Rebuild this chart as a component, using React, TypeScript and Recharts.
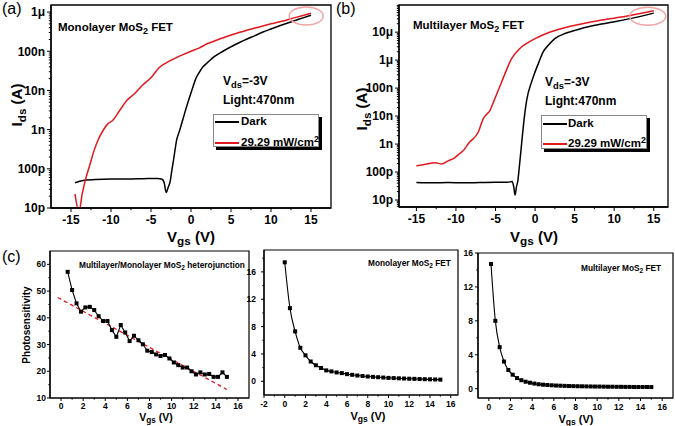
import React from 'react';
import { LineChart, Line, XAxis, YAxis, ReferenceArea, ReferenceDot } from 'recharts';

const FONT = '"Liberation Sans", Arial, Helvetica, sans-serif';
const RED = '#e0191f';

// (a) Monolayer MoS2 FET, Ids (A) vs Vgs (V)
const monoDarkVgs = [-14.5, -13.5, -12, -10, -8, -6, -4.2, -3.6, -3.35, -3.1, -2.85, -2.6, -2.4, -2.2, -2.0, -1.8, -1.5, -1.2, -0.8, -0.3, 0.2, 0.6, 1.0, 1.5, 2.0, 3, 4, 5, 6, 7, 8, 9, 10, 11, 12, 13, 14, 15];
const monoDarkIds = [4.4e-11, 5.0e-11, 5.3e-11, 5.5e-11, 5.5e-11, 5.6e-11, 5.7e-11, 5.4e-11, 4.4e-11, 2.5e-11, 3.4e-11, 4.8e-11, 9e-11, 1.6e-10, 3.0e-10, 5.4e-10, 8.5e-10, 1.35e-9, 2.6e-9, 5.6e-9, 1.15e-8, 2.0e-8, 2.8e-8, 4.0e-8, 5.0e-8, 7.5e-8, 1.0e-7, 1.3e-7, 1.65e-7, 2.05e-7, 2.5e-7, 3.1e-7, 3.7e-7, 4.4e-7, 5.2e-7, 6.1e-7, 7.1e-7, 8.3e-7];
const monoLightVgs = [-14.5, -14.0, -13.6, -13.2, -12.6, -12.1, -11.6, -11.0, -10.4, -9.8, -9.0, -8.0, -7.0, -6.0, -5.0, -4.0, -3.0, -2.0, -1.0, 0, 1, 2, 3, 4, 5, 6, 7, 8, 9, 10, 11, 12, 13, 14, 15];
const monoLightIds = [2.3e-11, 8e-12, 2.3e-11, 5.2e-11, 1.35e-10, 3.0e-10, 5.5e-10, 9.5e-10, 1.4e-9, 1.7e-9, 2.9e-9, 5.6e-9, 8.5e-9, 1.4e-8, 2.1e-8, 3.8e-8, 5.2e-8, 6.6e-8, 8.2e-8, 1.0e-7, 1.2e-7, 1.55e-7, 1.85e-7, 2.2e-7, 2.6e-7, 3.0e-7, 3.45e-7, 3.9e-7, 4.4e-7, 5.0e-7, 5.6e-7, 6.3e-7, 7.2e-7, 8.2e-7, 9.3e-7];

// (b) Multilayer MoS2 FET
const multiDarkVgs = [-15, -13, -11, -9, -7, -5, -3.5, -2.9, -2.7, -2.53, -2.35, -2.19, -1.99, -1.78, -1.49, -1.06, -0.43, 0, 0.5, 1.04, 1.67, 2.5, 3.77, 5, 6.3, 8.4, 10.5, 12.6, 15];
const multiDarkIds = [4.2e-11, 4.1e-11, 4.2e-11, 4.1e-11, 4.2e-11, 4.3e-11, 4.3e-11, 4.6e-11, 3.0e-11, 1.5e-11, 3.0e-11, 4.6e-11, 1.55e-10, 6.1e-10, 4.2e-9, 3.7e-8, 1.7e-7, 3.8e-7, 8.7e-7, 2.0e-6, 3.4e-6, 5.9e-6, 8.9e-6, 1.15e-5, 1.47e-5, 1.95e-5, 2.5e-5, 3.3e-5, 4.8e-5];
const multiLightVgs = [-15, -14, -12.6, -11.8, -11, -10.27, -9.47, -9.0, -8.42, -7.16, -6.53, -6.2, -5.69, -5.2, -4.64, -3.8, -2.95, -2.3, -1.69, -0.8, 0, 1.67, 4.19, 8.4, 11.5, 15];
const multiLightIds = [1.65e-10, 1.85e-10, 2.15e-10, 1.94e-10, 2.5e-10, 3.1e-10, 4.7e-10, 6.1e-10, 1.05e-9, 2.75e-9, 8.3e-9, 1.1e-8, 1.6e-8, 3.5e-8, 8.5e-8, 3.3e-7, 1.15e-6, 2.0e-6, 3.0e-6, 4.4e-6, 5.9e-6, 9.5e-6, 1.55e-5, 2.7e-5, 3.7e-5, 5.8e-5];

// (c) photosensitivity vs Vgs
const heteroVgs = [0.6, 1.0, 1.4, 1.8, 2.2, 2.6, 3.0, 3.4, 3.8, 4.2, 4.6, 5.0, 5.4, 5.8, 6.2, 6.6, 7.0, 7.4, 7.8, 8.2, 8.6, 9.0, 9.4, 9.8, 10.2, 10.6, 11.0, 11.4, 11.8, 12.2, 12.6, 13.0, 13.4, 13.8, 14.2, 14.6, 15.0];
const heteroPs = [57.2, 50.4, 45.4, 42.3, 43.9, 44.1, 42.9, 40.6, 38.8, 38.8, 35.4, 32.9, 37.3, 34.5, 31.3, 33.3, 31.6, 30.1, 27.7, 27.2, 26.3, 25.7, 26.1, 24.8, 23.3, 22.3, 21.4, 21.4, 20.0, 18.8, 19.6, 18.8, 19.0, 17.9, 17.9, 19.6, 17.9];
const heteroFitVgs = [-0.3, 15.0];
const heteroFitPs = [47.6, 13.2];
const monoPsVgs = [0, 0.5, 1, 1.5, 2, 2.5, 3, 3.5, 4, 4.5, 5, 5.5, 6, 6.5, 7, 7.5, 8, 8.5, 9, 9.5, 10, 10.5, 11, 11.5, 12, 12.5, 13, 13.5, 14, 14.5, 15];
const monoPs = [17.4, 10.7, 7.3, 4.9, 3.8, 2.9, 2.35, 1.95, 1.6, 1.45, 1.3, 1.2, 1.05, 0.95, 0.85, 0.78, 0.7, 0.65, 0.6, 0.55, 0.5, 0.47, 0.44, 0.41, 0.38, 0.36, 0.33, 0.31, 0.29, 0.27, 0.25];
const multiPsVgs = [0.2, 0.6, 1.0, 1.4, 1.8, 2.2, 2.6, 3.0, 3.4, 3.8, 4.2, 4.6, 5.0, 5.4, 5.8, 6.2, 6.6, 7.0, 7.4, 7.8, 8.2, 8.6, 9.0, 9.4, 9.8, 10.2, 10.6, 11.0, 11.4, 11.8, 12.2, 12.6, 13.0, 13.4, 13.8, 14.2, 14.6, 15.0];
const multiPs = [14.7, 8.0, 4.9, 3.2, 2.2, 1.65, 1.25, 1.0, 0.82, 0.7, 0.6, 0.52, 0.47, 0.43, 0.4, 0.37, 0.35, 0.33, 0.31, 0.3, 0.29, 0.28, 0.27, 0.26, 0.25, 0.25, 0.24, 0.23, 0.23, 0.22, 0.22, 0.21, 0.21, 0.2, 0.2, 0.2, 0.2, 0.19];

// tick labels
const ivExps = [-11, -10, -9, -8, -7, -6, -5];
const ivLabels = ['10p', '100p', '1n', '10n', '100n', '1μ', '10μ'];
const ivVgsMajor = [-15, -10, -5, 0, 5, 10, 15];
const ivVgsTicks = [-15, -12.5, -10, -7.5, -5, -2.5, 0, 2.5, 5, 7.5, 10, 12.5, 15];

// pink highlight ellipses (data coords)
const monoMark = { x: 14.4, y: -6.1 };
const multiMark = { x: 14.24, y: -4.43 };

const pts = (xs: number[], ys: number[], f: (v: number) => number = (v) => v) =>
  xs.map((x, i) => ({ x, y: f(ys[i]) }));

const isIn = (arr: number[], v: number) => arr.some((m) => Math.abs(m - v) < 1e-6);

const logMinor = (lo: number, hi: number) => {
  const t: number[] = [];
  for (let n = Math.floor(lo) - 1; n < hi; n++) {
    for (let k = 2; k <= 9; k++) {
      const v = n + Math.log10(k);
      if (v > lo && v < hi) t.push(v);
    }
  }
  return t;
};

const ivFmt = (v: number) => ivLabels[ivExps.indexOf(Math.round(v))] ?? '';

const makeXTick = (majors: number[], fs: number, len: number, off: number) => (t: any) => {
  const v = t.payload.value;
  const major = isIn(majors, v);
  return (
    <g>
      <line x1={t.x} x2={t.x} y1={t.y} y2={t.y + (major ? len : len * 0.55)} stroke="#000" strokeWidth={1} />
      {major && (
        <text x={t.x} y={t.y + off} textAnchor="middle" fontSize={fs} fontFamily={FONT} fontWeight="bold" fill="#000">
          {String(v)}
        </text>
      )}
    </g>
  );
};

const makeYTick = (majors: number[], fmt: (v: number) => string, fs: number, len: number, gap: number) => (t: any) => {
  const v = t.payload.value;
  const major = isIn(majors, v);
  return (
    <g>
      <line x1={t.x - (major ? len : len * 0.55)} x2={t.x} y1={t.y} y2={t.y} stroke="#000" strokeWidth={1} />
      {major && (
        <text x={t.x - gap} y={t.y} dy="0.36em" textAnchor="end" fontSize={fs} fontFamily={FONT} fontWeight="bold" fill="#000">
          {fmt(v)}
        </text>
      )}
    </g>
  );
};

const square = (p: any) => (
  <rect key={`sq-${p.index}`} x={p.cx - 2} y={p.cy - 2} width={4} height={4} fill="#000" />
);

const ellipse = (rx: number, ry: number) => (p: any) => (
  <ellipse cx={p.cx} cy={p.cy} rx={rx} ry={ry} fill="none" stroke="#f2a3a3" strokeWidth={1.4} />
);

type PanelProps = {
  box: [number, number, number, number];
  yw: number;
  xh: number;
  mt: number;
  mr: number;
  xDomain: [number, number];
  yDomain: [number, number];
  xTicks: number[];
  xMajors: number[];
  yTicks: number[];
  yMajors: number[];
  yFmt: (v: number) => string;
  fs: number;
  len: number;
  xOff: number;
  yGap: number;
  stroke: number;
  children: React.ReactNode;
};

function Panel(p: PanelProps) {
  const [x0, y0, x1, y1] = p.box;
  const left = x0 - p.yw;
  const top = y0 - p.mt;
  const width = x1 - left + p.mr;
  const height = y1 - top + p.xh;
  return (
    <div style={{ position: 'absolute', left, top }}>
      <LineChart width={width} height={height} margin={{ top: p.mt, right: p.mr, bottom: 0, left: 0 }}>
        <XAxis
          type="number"
          dataKey="x"
          domain={p.xDomain}
          allowDataOverflow
          ticks={p.xTicks}
          interval={0}
          tickSize={0}
          tickMargin={0}
          tickLine={false}
          height={p.xh}
          axisLine={{ stroke: '#000', strokeWidth: p.stroke }}
          tick={makeXTick(p.xMajors, p.fs, p.len, p.xOff)}
        />
        <YAxis
          type="number"
          domain={p.yDomain}
          allowDataOverflow
          ticks={p.yTicks}
          interval={0}
          tickSize={0}
          tickMargin={0}
          tickLine={false}
          width={p.yw}
          axisLine={{ stroke: '#000', strokeWidth: p.stroke }}
          tick={makeYTick(p.yMajors, p.yFmt, p.fs, p.len, p.yGap)}
        />
        <ReferenceArea
          x1={p.xDomain[0]}
          x2={p.xDomain[1]}
          y1={p.yDomain[0]}
          y2={p.yDomain[1]}
          fill="none"
          stroke="#000"
          strokeWidth={p.stroke}
          ifOverflow="visible"
        />
        {p.children}
      </LineChart>
    </div>
  );
}

const Sub = ({ c }: { c: string }) => (
  <span style={{ fontSize: '0.78em', position: 'relative', top: '0.32em' }}>{c}</span>
);
const Sup = ({ c }: { c: string }) => (
  <span style={{ fontSize: '0.78em', position: 'relative', top: '-0.45em' }}>{c}</span>
);

const Txt = ({ x, y, fs, bold = true, center = false, children }: any) => (
  <div
    style={{
      position: 'absolute',
      left: x,
      top: y - fs * 0.5,
      fontSize: fs,
      lineHeight: 1,
      fontFamily: FONT,
      fontWeight: bold ? 700 : 400,
      whiteSpace: 'nowrap',
      transform: center ? 'translateX(-50%)' : undefined,
    }}
  >
    {children}
  </div>
);

const RotTxt = ({ x, y, fs, children }: any) => (
  <div
    style={{
      position: 'absolute',
      left: x,
      top: y,
      fontSize: fs,
      lineHeight: 1,
      fontFamily: FONT,
      fontWeight: 700,
      whiteSpace: 'nowrap',
      transform: 'translate(-50%, -50%) rotate(-90deg)',
    }}
  >
    {children}
  </div>
);

const LegendBox = ({ x, y, w, h, r1, r2, lineW, textX, fs }: any) => (
  <div
    style={{
      position: 'absolute',
      left: x,
      top: y,
      width: w,
      height: h,
      boxSizing: 'border-box',
      border: '1px solid #888',
      boxShadow: '3px 3px 0 #000',
      background: '#fff',
      fontFamily: FONT,
      fontWeight: 700,
      fontSize: fs,
    }}
  >
    <div style={{ position: 'absolute', left: 1, top: r1 - 1, width: lineW, height: 1.6, background: '#000' }} />
    <div style={{ position: 'absolute', left: textX, top: r1 - fs * 0.5, lineHeight: 1, whiteSpace: 'nowrap' }}>Dark</div>
    <div style={{ position: 'absolute', left: 1, top: r2 - 1, width: lineW, height: 1.6, background: RED }} />
    <div style={{ position: 'absolute', left: textX, top: r2 - fs * 0.5, lineHeight: 1, whiteSpace: 'nowrap' }}>
      29.29 mW/cm<Sup c="2" />
    </div>
  </div>
);

const seriesLine = (data: any[], color: string, key: string, type: any = 'monotone') => (
  <Line
    key={key}
    data={data}
    dataKey="y"
    type={type}
    stroke={color}
    strokeWidth={1.5}
    dot={false}
    activeDot={false}
    isAnimationActive={false}
  />
);

export default function App() {
  const lg = (v: number) => Math.log10(v);
  const aTop = -5.82;
  const bDom: [number, number] = [-11.25, -4.03];
  const aYTicks = [...ivExps.filter((e) => e <= aTop), ...logMinor(-11, aTop)];
  const bYTicks = [...ivExps.filter((e) => e >= bDom[0] && e <= bDom[1]), ...logMinor(bDom[0], bDom[1])];

  const cX16 = [0, 1, 2, 3, 4, 5, 6, 7, 8, 9, 10, 11, 12, 13, 14, 15, 16];
  const cX16Major = [0, 2, 4, 6, 8, 10, 12, 14, 16];
  const cMidX = [-2, -1, ...cX16];
  const cMidXMajor = [-2, ...cX16Major];
  const cLeftY = [10, 15, 20, 25, 30, 35, 40, 45, 50, 55, 60];
  const cLeftYMajor = [10, 20, 30, 40, 50, 60];
  const cPsY = [0, 2, 4, 6, 8, 10, 12, 14, 16, 18];
  const cPsYMajor = [0, 4, 8, 12, 16];
  const num = (v: number) => String(v);

  return (
    <div style={{ position: 'absolute', left: 0, top: 0, width: 675, height: 426, background: '#fff', overflow: 'hidden' }}>
      {/* (a) */}
      <Panel
        box={[51, 5, 331, 208]}
        yw={50}
        xh={28}
        mt={5}
        mr={6}
        xDomain={[-17.5, 17.5]}
        yDomain={[-11, aTop]}
        xTicks={ivVgsTicks}
        xMajors={ivVgsMajor}
        yTicks={aYTicks}
        yMajors={ivExps}
        yFmt={ivFmt}
        fs={12}
        len={4}
        xOff={16}
        yGap={6}
        stroke={1.3}
      >
        {seriesLine(pts(monoDarkVgs, monoDarkIds, lg), '#000', 'ad')}
        {seriesLine(pts(monoLightVgs, monoLightIds, lg), RED, 'al')}
        <ReferenceDot x={monoMark.x} y={monoMark.y} r={9} ifOverflow="visible" shape={ellipse(17, 9)} />
      </Panel>

      {/* (b) */}
      <Panel
        box={[399, 5, 668, 207]}
        yw={50}
        xh={28}
        mt={5}
        mr={6}
        xDomain={[-17.2, 16.8]}
        yDomain={bDom}
        xTicks={ivVgsTicks}
        xMajors={ivVgsMajor}
        yTicks={bYTicks}
        yMajors={ivExps}
        yFmt={ivFmt}
        fs={12}
        len={4}
        xOff={16}
        yGap={6}
        stroke={1.3}
      >
        {seriesLine(pts(multiDarkVgs, multiDarkIds, lg), '#000', 'bd')}
        {seriesLine(pts(multiLightVgs, multiLightIds, lg), RED, 'bl')}
        <ReferenceDot x={multiMark.x} y={multiMark.y} r={9} ifOverflow="visible" shape={ellipse(18, 9)} />
      </Panel>

      {/* (c) left: heterojunction */}
      <Panel
        box={[50, 251, 249, 398]}
        yw={30}
        xh={14}
        mt={4}
        mr={4}
        xDomain={[-1, 17]}
        yDomain={[10, 65]}
        xTicks={cX16}
        xMajors={cX16Major}
        yTicks={cLeftY}
        yMajors={cLeftYMajor}
        yFmt={num}
        fs={8.5}
        len={3}
        xOff={11}
        yGap={4}
        stroke={1.2}
      >
        <Line
          data={pts(heteroFitVgs, heteroFitPs)}
          dataKey="y"
          type="linear"
          stroke={RED}
          strokeWidth={1.3}
          strokeDasharray="4 3"
          dot={false}
          activeDot={false}
          isAnimationActive={false}
        />
        <Line
          data={pts(heteroVgs, heteroPs)}
          dataKey="y"
          type="linear"
          stroke="#000"
          strokeWidth={1.1}
          dot={square}
          activeDot={false}
          isAnimationActive={false}
        />
      </Panel>

      {/* (c) middle: monolayer */}
      <Panel
        box={[264, 250, 458, 395]}
        yw={30}
        xh={14}
        mt={4}
        mr={4}
        xDomain={[-2, 16.7]}
        yDomain={[-2, 19.2]}
        xTicks={cMidX}
        xMajors={cMidXMajor}
        yTicks={cPsY}
        yMajors={cPsYMajor}
        yFmt={num}
        fs={8.5}
        len={3}
        xOff={11.5}
        yGap={8}
        stroke={1.2}
      >
        <Line
          data={pts(monoPsVgs, monoPs)}
          dataKey="y"
          type="monotone"
          stroke="#000"
          strokeWidth={1.1}
          dot={square}
          activeDot={false}
          isAnimationActive={false}
        />
      </Panel>

      {/* (c) right: multilayer */}
      <Panel
        box={[478, 253, 673, 398]}
        yw={28}
        xh={14}
        mt={4}
        mr={2}
        xDomain={[-1, 17]}
        yDomain={[-1.1, 16]}
        xTicks={cX16}
        xMajors={cX16Major}
        yTicks={cPsY.filter((v) => v <= 16)}
        yMajors={cPsYMajor}
        yFmt={num}
        fs={8.5}
        len={3}
        xOff={11.5}
        yGap={5}
        stroke={1.2}
      >
        <Line
          data={pts(multiPsVgs, multiPs)}
          dataKey="y"
          type="monotone"
          stroke="#000"
          strokeWidth={1.1}
          dot={square}
          activeDot={false}
          isAnimationActive={false}
        />
      </Panel>

      {/* panel letters */}
      <Txt x={2} y={9} fs={16} bold={false}>(a)</Txt>
      <Txt x={336} y={9} fs={16} bold={false}>(b)</Txt>
      <Txt x={2} y={257} fs={16} bold={false}>(c)</Txt>

      {/* (a) texts */}
      <Txt x={58} y={28} fs={11.5}>Monolayer MoS<Sub c="2" /> FET</Txt>
      <Txt x={223} y={81} fs={12}>V<Sub c="ds" />=-3V</Txt>
      <Txt x={223} y={100} fs={12}>Light:470nm</Txt>
      <LegendBox x={213} y={114} w={106} h={33} r1={7} r2={28} lineW={24} textX={27} fs={11.5} />
      <RotTxt x={16} y={105} fs={15}>I<Sub c="ds" /> (A)</RotTxt>
      <Txt x={191} y={236} fs={15} center>V<Sub c="gs" /> (V)</Txt>

      {/* (b) texts */}
      <Txt x={413} y={26} fs={11.5}>Multilayer MoS<Sub c="2" /> FET</Txt>
      <Txt x={545} y={82} fs={12}>V<Sub c="ds" />=-3V</Txt>
      <Txt x={545} y={101} fs={12}>Light:470nm</Txt>
      <LegendBox x={541} y={115} w={106} h={34} r1={8} r2={28} lineW={24} textX={26} fs={11.5} />
      <RotTxt x={361} y={109} fs={15}>I<Sub c="ds" /> (A)</RotTxt>
      <Txt x={534} y={236} fs={15} center>V<Sub c="gs" /> (V)</Txt>

      {/* (c) texts */}
      <Txt x={79} y={265} fs={8.3}>Multilayer/Monolayer MoS<Sub c="2" /> heterojunction</Txt>
      <Txt x={368} y={263} fs={8.3}>Monolayer MoS<Sub c="2" /> FET</Txt>
      <Txt x={581} y={268} fs={8.3}>Multilayer MoS<Sub c="2" /> FET</Txt>
      <RotTxt x={27} y={325} fs={10}>Photosensitivity</RotTxt>
      <Txt x={156} y={417} fs={10.5} center>V<Sub c="gs" /> (V)</Txt>
      <Txt x={368} y={416} fs={11} center>V<Sub c="gs" /> (V)</Txt>
      <Txt x={576} y={419} fs={11} center>V<Sub c="gs" /> (V)</Txt>
    </div>
  );
}
